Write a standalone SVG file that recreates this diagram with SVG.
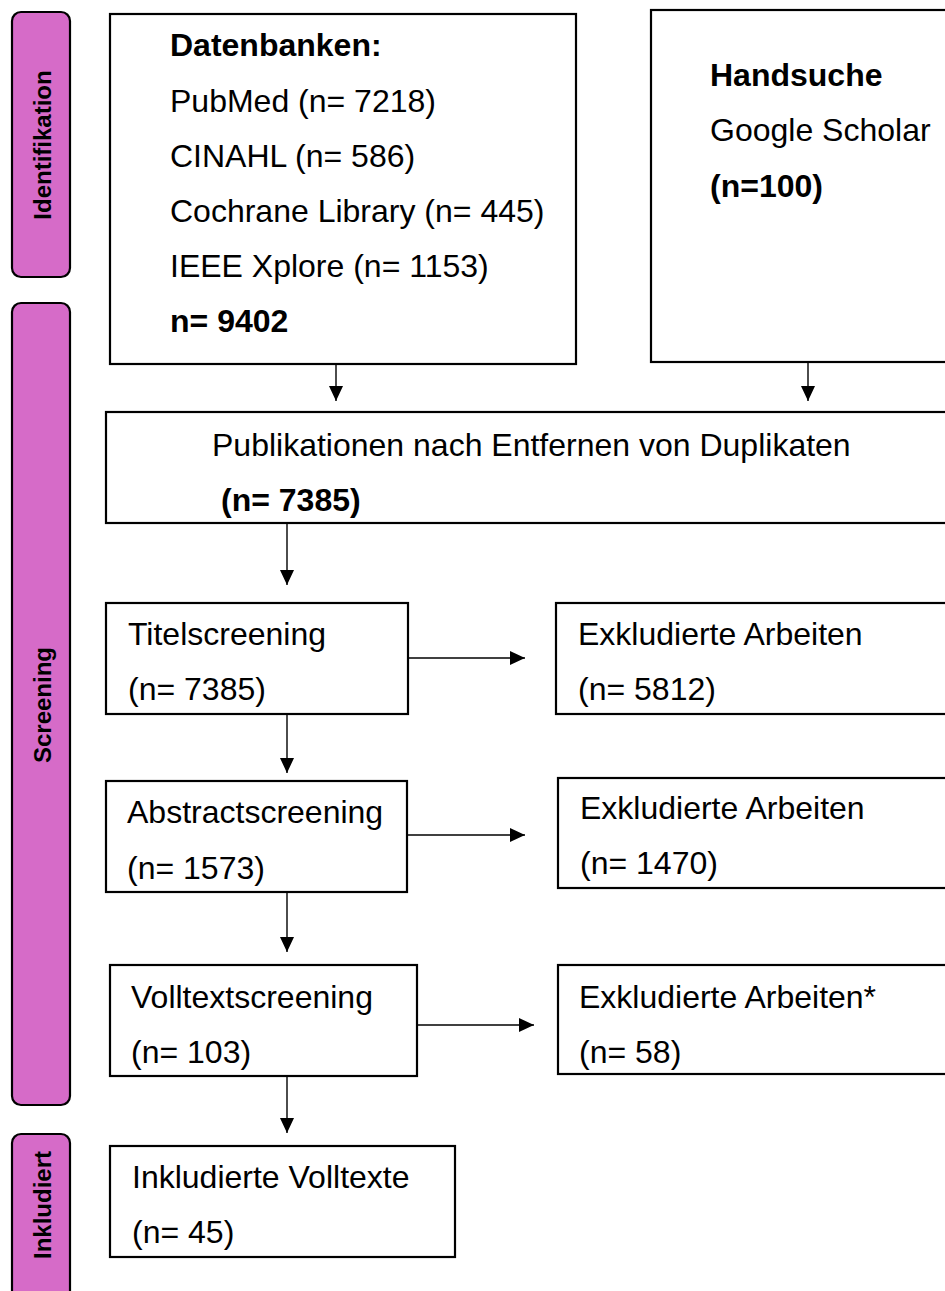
<svg xmlns="http://www.w3.org/2000/svg" width="945" height="1291" viewBox="0 0 945 1291">
<style>
.box{fill:#fff;stroke:#000;stroke-width:2.2}
.side{fill:#D66BC8;stroke:#000;stroke-width:2.2}
.t{font-family:"Liberation Sans",Arial,sans-serif;font-size:32px;fill:#000}
.b{font-weight:bold}
.st{font-family:"Liberation Sans",Arial,sans-serif;font-size:24px;font-weight:bold;fill:#000;text-anchor:middle}
.c{fill:none;stroke:#000;stroke-width:1.4}
</style>
<defs>
<marker id="ah" markerWidth="15" markerHeight="14" refX="15" refY="7" orient="auto" markerUnits="userSpaceOnUse">
<path d="M0,0 L15,7 L0,14 Z" fill="#000"/>
</marker>
</defs>
<rect width="945" height="1291" fill="#fff"/>

<g id="phase-identifikation">
<rect class="side" x="12" y="12" width="58" height="265" rx="9"/>
<text class="st" transform="translate(51,145) rotate(-90)">Identifikation</text>
</g>
<g id="phase-screening">
<rect class="side" x="12" y="303" width="58" height="802" rx="9"/>
<text class="st" transform="translate(51,705) rotate(-90)">Screening</text>
</g>
<g id="phase-inkludiert">
<rect class="side" x="12" y="1134" width="58" height="180" rx="9"/>
<text class="st" transform="translate(51,1205) rotate(-90)">Inkludiert</text>
</g>

<g id="datenbanken">
<rect class="box" x="110" y="14" width="466" height="350"/>
<text class="t b" x="170" y="56">Datenbanken:</text>
<text class="t" x="170" y="112">PubMed (n= 7218)</text>
<text class="t" x="170" y="167">CINAHL (n= 586)</text>
<text class="t" x="170" y="222">Cochrane Library (n= 445)</text>
<text class="t" x="170" y="277">IEEE Xplore (n= 1153)</text>
<text class="t b" x="170" y="332">n= 9402</text>
</g>

<g id="handsuche">
<rect class="box" x="651" y="10" width="320" height="352"/>
<text class="t b" x="710" y="86">Handsuche</text>
<text class="t" x="710" y="141">Google Scholar</text>
<text class="t b" x="710" y="197">(n=100)</text>
</g>

<g id="duplikate">
<rect class="box" x="106" y="412" width="860" height="111"/>
<text class="t" x="212" y="456">Publikationen nach Entfernen von Duplikaten</text>
<text class="t b" x="221" y="511">(n= 7385)</text>
</g>

<g id="titelscreening">
<rect class="box" x="106" y="603" width="302" height="111"/>
<text class="t" x="128" y="645">Titelscreening</text>
<text class="t" x="128" y="700">(n= 7385)</text>
</g>

<g id="exkludiert1">
<rect class="box" x="556" y="603" width="410" height="111"/>
<text class="t" x="578" y="645">Exkludierte Arbeiten</text>
<text class="t" x="578" y="700">(n= 5812)</text>
</g>

<g id="abstractscreening">
<rect class="box" x="106" y="781" width="301" height="111"/>
<text class="t" x="127" y="823">Abstractscreening</text>
<text class="t" x="127" y="879">(n= 1573)</text>
</g>

<g id="exkludiert2">
<rect class="box" x="558" y="778" width="410" height="110"/>
<text class="t" x="580" y="819">Exkludierte Arbeiten</text>
<text class="t" x="580" y="874">(n= 1470)</text>
</g>

<g id="volltextscreening">
<rect class="box" x="110" y="965" width="307" height="111"/>
<text class="t" x="131" y="1008">Volltextscreening</text>
<text class="t" x="131" y="1063">(n= 103)</text>
</g>

<g id="exkludiert3">
<rect class="box" x="558" y="965" width="410" height="109"/>
<text class="t" x="579" y="1008">Exkludierte Arbeiten*</text>
<text class="t" x="579" y="1063">(n= 58)</text>
</g>

<g id="inkludiert">
<rect class="box" x="110" y="1146" width="345" height="111"/>
<text class="t" x="132" y="1188">Inkludierte Volltexte</text>
<text class="t" x="132" y="1243">(n= 45)</text>
</g>

<g id="connectors">
<path class="c" d="M336,364 V401" marker-end="url(#ah)"/>
<path class="c" d="M808,362 V401" marker-end="url(#ah)"/>
<path class="c" d="M287,523 V585" marker-end="url(#ah)"/>
<path class="c" d="M408,658 H525" marker-end="url(#ah)"/>
<path class="c" d="M287,714 V773" marker-end="url(#ah)"/>
<path class="c" d="M407,835 H525" marker-end="url(#ah)"/>
<path class="c" d="M287,892 V952" marker-end="url(#ah)"/>
<path class="c" d="M417,1025 H534" marker-end="url(#ah)"/>
<path class="c" d="M287,1076 V1133" marker-end="url(#ah)"/>
</g>
</svg>
